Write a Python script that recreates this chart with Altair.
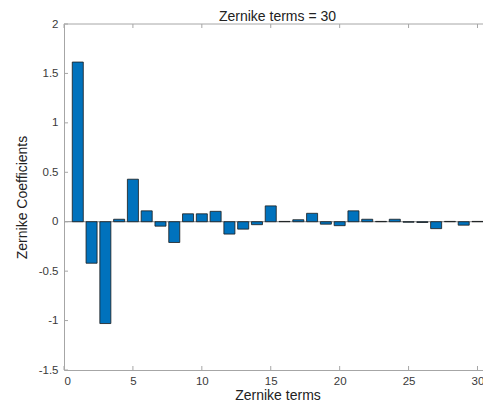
import altair as alt
import pandas as pd

terms = list(range(1, 31))
coeffs = [1.615, -0.42, -1.03, 0.025, 0.43, 0.11, -0.045, -0.21, 0.08, 0.08,
          0.105, -0.125, -0.075, -0.03, 0.16, 0.003, 0.02, 0.085, -0.025, -0.04,
          0.11, 0.025, 0.003, 0.025, -0.005, -0.008, -0.07, 0.003, -0.035, 0.003]
x_ticks = [0, 5, 10, 15, 20, 25, 30]
y_ticks = [-1.5, -1, -0.5, 0, 0.5, 1, 1.5, 2]
title_text = "Zernike terms = 30"

W, H = 419, 346
AX = "#a6a6a6"
TXT = "#3a3a3a"
FONT = "Liberation Sans"

df = pd.DataFrame({"term": terms, "coef": coeffs})
xs = alt.Scale(domain=[0, 30.4], nice=False, zero=False)
ys = alt.Scale(domain=[-1.5, 2], nice=False)

bars = alt.Chart(df).transform_calculate(
    x0="datum.term - 0.4", x1="datum.term + 0.4", base="0"
).mark_bar(color="#0072BD", stroke="#1a1a1a", strokeWidth=0.8, clip=True).encode(
    x=alt.X("x0:Q", scale=xs,
            axis=alt.Axis(values=x_ticks, title="Zernike terms", ticks=False,
                          grid=False, domainColor=AX, labelPadding=5,
                          titlePadding=2, format="d", titleX=W / 2 + 4)),
    x2="x1:Q",
    y=alt.Y("base:Q", scale=ys,
            axis=alt.Axis(values=y_ticks, title="Zernike Coefficients", ticks=False,
                          grid=False, domainColor=AX, labelPadding=6,
                          titlePadding=9, labelExpr="'' + datum.value")),
    y2="coef:Q",
)

zero_df = pd.DataFrame({"v": [0]})
baseline = alt.Chart(zero_df).mark_rule(color="#8c8c8c", strokeWidth=1).encode(
    y=alt.Y("v:Q", scale=ys), x=alt.value(0), x2=alt.value(W)
)

top_line = alt.Chart(zero_df).mark_rule(color=AX, strokeWidth=1).encode(
    y=alt.value(0), x=alt.value(0), x2=alt.value(W)
)

title_mark = alt.Chart(zero_df).mark_text(
    font=FONT, fontSize=14, color="#222222", baseline="alphabetic", align="center"
).encode(x=alt.value(W / 2 + 4), y=alt.value(-3), text=alt.value(title_text))

xt = pd.DataFrame({"t": x_ticks})
yt = pd.DataFrame({"t": y_ticks})
xtick_bot = alt.Chart(xt).mark_rule(color=AX).encode(
    x=alt.X("t:Q", scale=xs), y=alt.value(H - 4), y2=alt.value(H))
xtick_top = alt.Chart(xt).mark_rule(color=AX).encode(
    x=alt.X("t:Q", scale=xs), y=alt.value(0), y2=alt.value(4))
ytick = alt.Chart(yt).mark_rule(color=AX).encode(
    y=alt.Y("t:Q", scale=ys), x=alt.value(0), x2=alt.value(4))

chart = alt.layer(baseline, bars, top_line, xtick_bot, xtick_top, ytick,
                  title_mark).properties(
    width=W, height=H,
    autosize=alt.AutoSizeParams(type="none"),
    padding={"left": 56, "top": 16, "right": 0, "bottom": 32},
).configure_view(stroke=None).configure_axis(
    labelFont=FONT, titleFont=FONT, labelFontSize=11.5, titleFontSize=14,
    labelColor=TXT, titleColor="#222222", titleFontWeight="normal"
)

chart.save("out.html", embed_options={"renderer": "svg", "actions": False})
